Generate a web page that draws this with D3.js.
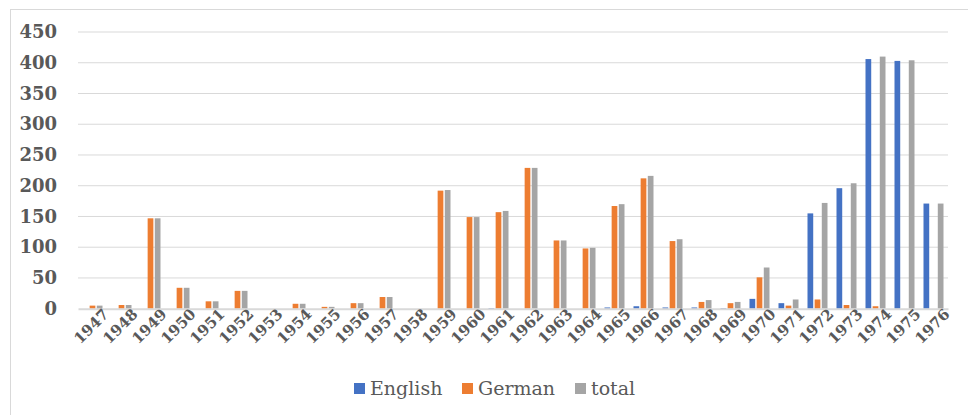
<!DOCTYPE html>
<html>
<head>
<meta charset="utf-8">
<script src="https://cdn.jsdelivr.net/npm/d3@7"></script>
<style>
  body { margin: 0; background: #fff; }
</style>
</head>
<body>
<svg id="chart"></svg>
<script>
const years = ['1947', '1948', '1949', '1950', '1951', '1952', '1953', '1954', '1955', '1956',
  '1957', '1958', '1959', '1960', '1961', '1962', '1963', '1964', '1965', '1966',
  '1967', '1968', '1969', '1970', '1971', '1972', '1973', '1974', '1975', '1976'];
const english = [0, 0, 0, 0, 0, 0, 0, 0, 0, 0,
  0, 0, 0, 0, 1, 0, 0, 0, 2, 4,
  2, 2, 1, 16, 9, 155, 196, 406, 403, 171];
const german = [5, 6, 147, 34, 12, 29, 0, 8, 3, 9,
  19, 0, 192, 149, 157, 229, 111, 98, 167, 212,
  110, 11, 9, 51, 5, 15, 6, 4, 0, 0];
const total = [5, 6, 147, 34, 12, 29, 0, 8, 3, 9,
  19, 0, 193, 149, 159, 229, 111, 99, 170, 216,
  113, 14, 11, 67, 15, 172, 204, 410, 404, 171];
const seriesNames = ['English', 'German', 'total'];
const colors = ['#4472c4', '#ed7d31', '#a5a5a5'];
const yTicks = [0, 50, 100, 150, 200, 250, 300, 350, 400, 450];

const FONT = 'DejaVu Serif, serif';
const W = 968, H = 415;
const margin = { top: 32, right: 20, bottom: 106, left: 78 };
const innerW = 948 - margin.left;
const innerH = 308.7 - margin.top;

const svg = d3.select('#chart').attr('width', W).attr('height', H)
  .attr('font-family', FONT);

// chart frame
svg.append('rect')
  .attr('x', 10.5).attr('y', 9.5)
  .attr('width', 990).attr('height', 430)
  .attr('fill', '#fff')
  .attr('stroke', '#d9d9d9');

const g = svg.append('g').attr('transform', `translate(${margin.left},${margin.top})`);

const x = d3.scaleBand().domain(years).range([0, innerW]);
const xSeries = d3.scaleBand().domain(seriesNames)
  .range([x.bandwidth() / 2 - 10, x.bandwidth() / 2 + 10])
  .paddingInner(0.2);
const y = d3.scaleLinear().domain([0, 450]).range([innerH, 0]);

// gridlines
g.append('g')
  .selectAll('line')
  .data(yTicks.filter(d => d > 0))
  .enter()
  .append('line')
  .attr('x1', 0).attr('x2', innerW)
  .attr('y1', d => y(d)).attr('y2', d => y(d))
  .attr('stroke', '#d9d9d9')
  .attr('stroke-width', 1);

// y axis labels
const yAxis = g.append('g')
  .call(d3.axisLeft(y).tickValues(yTicks).tickSize(0).tickPadding(21))
  .attr('font-family', FONT);
yAxis.select('.domain').remove();
yAxis.selectAll('text')
  .attr('font-size', 18)
  .attr('font-weight', 'bold')
  .style('fill', '#595959');

// bars
const data = years.map((yr, i) => ({ year: yr, values: [english[i], german[i], total[i]] }));
const groups = g.selectAll('.year')
  .data(data)
  .enter()
  .append('g')
  .attr('class', 'year')
  .attr('transform', d => `translate(${x(d.year)},0)`);

groups.selectAll('rect')
  .data(d => d.values.map((v, k) => ({ name: seriesNames[k], value: v, color: colors[k] })))
  .enter()
  .append('rect')
  .attr('x', d => xSeries(d.name))
  .attr('width', xSeries.bandwidth())
  .attr('y', d => y(d.value))
  .attr('height', d => innerH - y(d.value))
  .attr('fill', d => d.color);

// x axis
const xAxis = g.append('g')
  .attr('transform', `translate(0,${innerH})`)
  .call(d3.axisBottom(x).tickSize(0).tickPadding(10))
  .attr('font-family', FONT);
xAxis.select('.domain')
  .attr('stroke', '#d9d9d9')
  .attr('stroke-width', 2);
xAxis.selectAll('text')
  .attr('font-size', 15)
  .attr('font-weight', 'bold')
  .style('fill', '#595959')
  .attr('text-anchor', 'end')
  .attr('dx', '0.5em')
  .attr('dy', '0.45em')
  .attr('transform', 'rotate(-45)');

// legend
const legendX = [354, 462, 575];
const legend = svg.append('g')
  .selectAll('g')
  .data(seriesNames)
  .enter()
  .append('g')
  .attr('transform', (d, i) => `translate(${legendX[i]},383)`);

legend.append('rect')
  .attr('width', 11)
  .attr('height', 11)
  .attr('fill', (d, i) => colors[i]);

legend.append('text')
  .attr('x', 16)
  .attr('y', 5.5)
  .attr('dy', '0.35em')
  .attr('font-size', 19)
  .style('fill', '#595959')
  .text(d => d);
</script>
</body>
</html>
